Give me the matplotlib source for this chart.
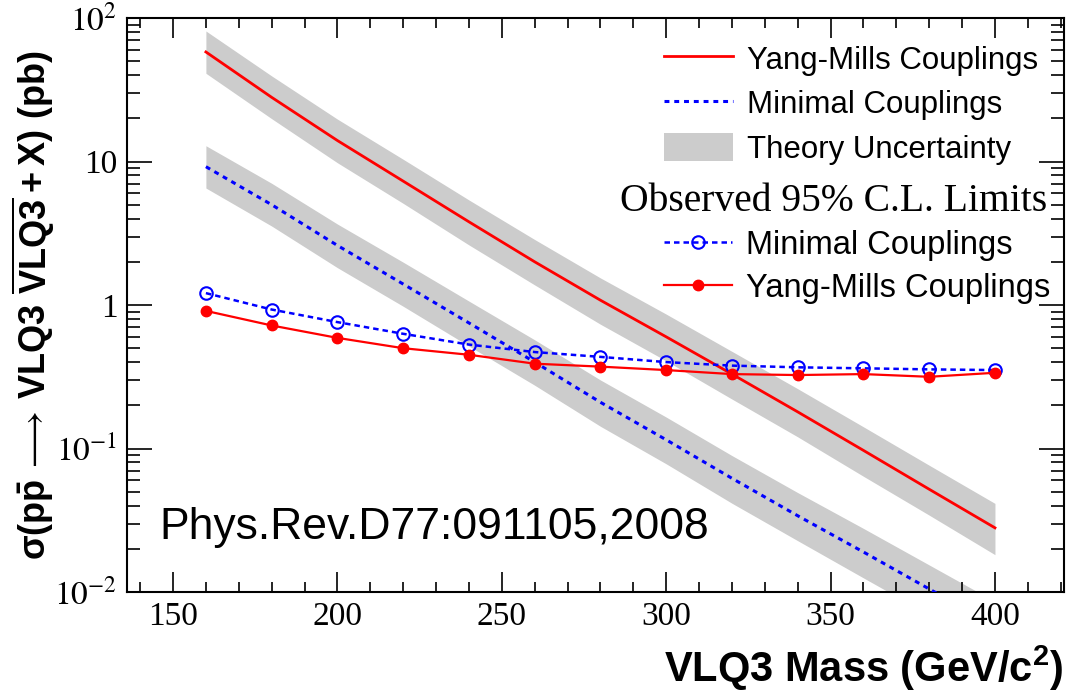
import matplotlib
matplotlib.use("Agg")
import matplotlib.pyplot as plt
import numpy as np
from matplotlib.ticker import MultipleLocator, LogLocator, FixedLocator, FixedFormatter, NullFormatter
from matplotlib.patches import Patch
from matplotlib.lines import Line2D
from matplotlib.font_manager import FontProperties

# VLQ3 pair-production cross sections (pb) versus mass (GeV/c^2)
mass = [160, 180, 200, 220, 240, 260, 280, 300, 320, 340, 360, 380, 400]

theory_yang_mills = [58, 28, 14, 7.3, 3.8, 2.0, 1.08, 0.60, 0.33, 0.18, 0.097, 0.052, 0.028]
theory_minimal = [9.2, 5.0, 2.6, 1.4, 0.75, 0.40, 0.21, 0.115, 0.062, 0.034, 0.019, 0.0105, 0.0058]

# relative theory uncertainty (up / down)
theory_unc_up = [0.40, 0.41, 0.41, 0.42, 0.42, 0.43, 0.43, 0.44, 0.44, 0.45, 0.46, 0.47, 0.48]
theory_unc_down = [0.29, 0.29, 0.30, 0.30, 0.31, 0.31, 0.32, 0.32, 0.33, 0.33, 0.34, 0.34, 0.35]

# observed 95% C.L. upper limits (pb)
limit_minimal = [1.21, 0.93, 0.76, 0.63, 0.53, 0.47, 0.435, 0.40, 0.378, 0.368, 0.362, 0.356, 0.352]
limit_yang_mills = [0.91, 0.72, 0.59, 0.50, 0.45, 0.39, 0.372, 0.352, 0.33, 0.325, 0.33, 0.316, 0.337]

y_tick_values = [0.01, 0.1, 1, 10, 100]
y_tick_labels = [r"$10^{-2}$", r"$10^{-1}$", "1", "10", r"$10^{2}$"]

plt.rcParams['mathtext.fontset'] = 'custom'
plt.rcParams['mathtext.rm'] = 'Liberation Sans:bold'
plt.rcParams['mathtext.it'] = 'Liberation Sans:bold'
plt.rcParams['mathtext.bf'] = 'Liberation Sans:bold'
plt.rcParams['mathtext.fallback'] = 'stix'

RED = '#ff0000'
BLUE = '#0000ff'
BAND = '#cccccc'

fig = plt.figure(figsize=(10.7, 6.93), dpi=100)
ax = fig.add_axes([127 / 1070, 1 - 592 / 693, 937 / 1070, 574 / 693])

m = np.array(mass)
ym = np.array(theory_yang_mills)
mn = np.array(theory_minimal)
up = 1 + np.array(theory_unc_up)
dn = 1 - np.array(theory_unc_down)

ax.fill_between(m, ym * dn, ym * up, color=BAND, lw=0, zorder=1)
ax.fill_between(m, mn * dn, mn * up, color=BAND, lw=0, zorder=1)
ax.plot(m, ym, color=RED, lw=2.0, zorder=3)
ax.plot(m, mn, color=BLUE, lw=2.2, dashes=(1.6, 1.6), zorder=3)

ax.plot(m, limit_minimal, color=BLUE, lw=1.8, dashes=(2.2, 1.6), marker='o',
        ms=9, mfc='none', mec=BLUE, mew=1.5, zorder=4)
ax.plot(m, limit_yang_mills, color=RED, lw=1.6, marker='o', ms=7.5,
        mfc=RED, mec=RED, zorder=5)

ax.set_yscale('log')
ax.set_xlim(136, 421)
ax.set_ylim(0.01, 100)

ax.xaxis.set_major_locator(MultipleLocator(50))
ax.xaxis.set_minor_locator(MultipleLocator(10))
ax.yaxis.set_major_locator(FixedLocator(y_tick_values))
ax.yaxis.set_major_formatter(FixedFormatter(y_tick_labels))
ax.yaxis.set_minor_locator(LogLocator(base=10, subs=np.arange(2, 10)))
ax.yaxis.set_minor_formatter(NullFormatter())

ax.tick_params(which='both', direction='in', top=True, right=True, width=1.2)
ax.tick_params(axis='x', which='major', length=14.5, pad=7)
ax.tick_params(axis='x', which='minor', length=7.5)
ax.tick_params(axis='y', which='major', length=18, pad=7)
ax.tick_params(axis='y', which='minor', length=9.5)
for s in ax.spines.values():
    s.set_linewidth(1.5)

for lab in ax.get_xticklabels() + ax.get_yticklabels():
    lab.set_fontfamily('Liberation Serif')
    lab.set_fontsize(24)
    lab.set_math_fontfamily('stix')

ax.set_xlabel(r"VLQ3 Mass (GeV/c$^{2}$)", fontfamily='Liberation Sans',
              fontweight='bold', fontsize=30, loc='right')
ax.xaxis.set_label_coords(0.999, -0.09)

ax.set_ylabel(r"$\mathbf{\sigma(p\bar{p}}\,\longrightarrow\,"
              r"\mathbf{VLQ3\ \overline{VLQ3}+X)\ (pb)}$",
              fontsize=26)
ax.yaxis.label.set_va('center')
ax.yaxis.set_label_coords(-0.1, 0.5)

ax.text(0.035, 0.113, "Phys.Rev.D77:091105,2008", transform=ax.transAxes,
        fontfamily='Liberation Sans', fontsize=32, va='center', ha='left')

theory_handles = [
    Line2D([], [], color=RED, lw=2.0),
    Line2D([], [], color=BLUE, lw=2.2, dashes=(1.6, 1.6)),
    Patch(facecolor=BAND, edgecolor='none'),
]
leg1 = ax.legend(theory_handles,
                 ["Yang-Mills Couplings", "Minimal Couplings", "Theory Uncertainty"],
                 loc='upper left', bbox_to_anchor=(0.573, 0.955), frameon=False,
                 prop=FontProperties(family='Liberation Sans', size=22.5),
                 handlelength=2.2, handleheight=1.0,
                 handletextpad=0.45, labelspacing=0.42, borderpad=0, borderaxespad=0)
ax.add_artist(leg1)

ax.text(0.526, 0.681, "Observed 95% C.L. Limits", transform=ax.transAxes,
        fontfamily='Liberation Serif', fontsize=28.5, va='center', ha='left')

limit_handles = [
    Line2D([], [], color=BLUE, lw=1.8, dashes=(2.2, 1.6), marker='o', ms=9,
           mfc='none', mec=BLUE, mew=1.5),
    Line2D([], [], color=RED, lw=1.6, marker='o', ms=7.5, mfc=RED, mec=RED),
]
leg2 = ax.legend(limit_handles, ["Minimal Couplings", "Yang-Mills Couplings"],
                 loc='upper left', bbox_to_anchor=(0.573, 0.631), frameon=False,
                 prop=FontProperties(family='Liberation Sans', size=23.5),
                 handlelength=2.1, handletextpad=0.42,
                 labelspacing=0.36, borderpad=0, borderaxespad=0)

fig.savefig("out.png", dpi=100)
